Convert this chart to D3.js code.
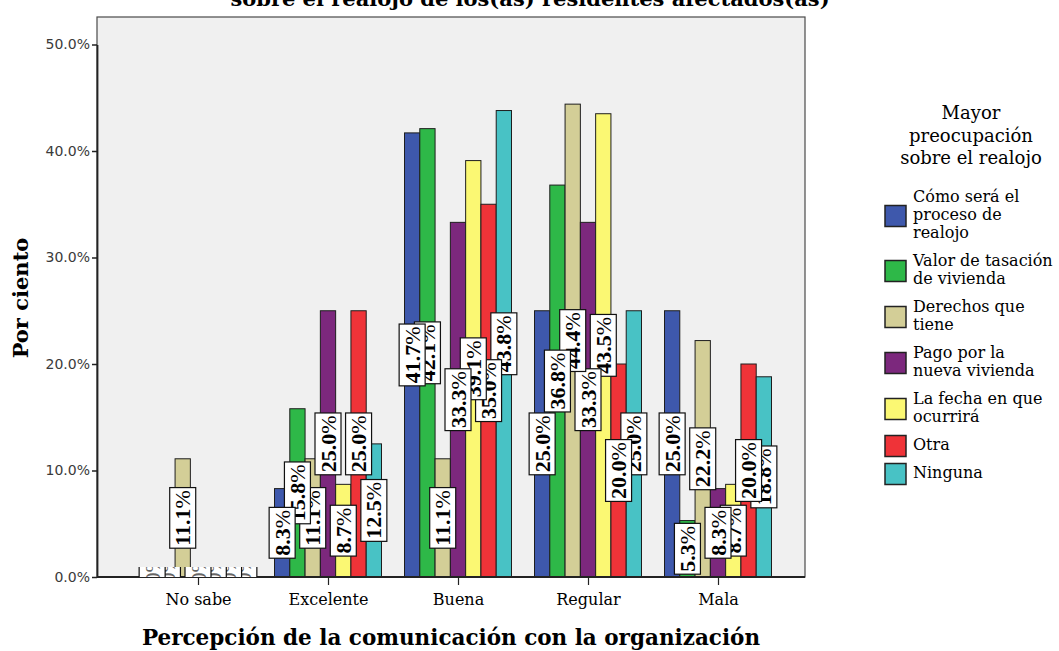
<!DOCTYPE html>
<html>
<head>
<meta charset="utf-8">
<script src="https://cdn.jsdelivr.net/npm/d3@7/dist/d3.min.js"></script>
<style>
  body { margin: 0; background: #ffffff; }
  svg { display: block; }
</style>
</head>
<body>
<svg id="chart" width="1059" height="651"></svg>
<script>
// Categories on the x axis
const categories = ["No sabe", "Excelente", "Buena", "Regular", "Mala"];

// Series (mayor preocupación) and their legend lines
const seriesKeys = ["como", "valor", "derechos", "pago", "fecha", "otra", "ninguna"];
const legendLines = [
  ["Cómo será el", "proceso de", "realojo"],
  ["Valor de tasación", "de vivienda"],
  ["Derechos que", "tiene"],
  ["Pago por la", "nueva vivienda"],
  ["La fecha en que", "ocurrirá"],
  ["Otra"],
  ["Ninguna"]
];
const seriesColors = ["#3e58ac", "#2eb848", "#d3ce97", "#7c287d", "#fbf873", "#ef3338", "#48c2c5"];

// Percentages per series, one value per category
const comoSera      = [0, 8.3, 41.7, 25.0, 25.0];
const valorTasacion = [0, 15.8, 42.1, 36.8, 5.3];
const derechos      = [11.1, 11.1, 11.1, 44.4, 22.2];
const pagoVivienda  = [0, 25.0, 33.3, 33.3, 8.3];
const fechaOcurrira = [0, 8.7, 39.1, 43.5, 8.7];
const otra          = [0, 25.0, 35.0, 20.0, 20.0];
const ninguna       = [0, 12.5, 43.8, 25.0, 18.8];
const seriesValues = [comoSera, valorTasacion, derechos, pagoVivienda, fechaOcurrira, otra, ninguna];

// Axis ticks
const yTicks = [0, 10, 20, 30, 40, 50];

// Texts
const chartTitle = "sobre el realojo de los(as) residentes afectados(as)";
const xTitle = "Percepción de la comunicación con la organización";
const yTitle = "Por ciento";
const legendTitle = ["Mayor", "preocupación", "sobre el realojo"];

const svg = d3.select("#chart");
const frame = { left: 97, right: 805, top: 17, bottom: 577 };

const y = d3.scaleLinear().domain([0, 50]).range([frame.bottom, 44.5]);
const x = d3.scalePoint().domain(categories).range([198, 718]);
const x1 = d3.scaleBand().domain(seriesKeys).range([-53.5, 53.5]);
const color = d3.scaleOrdinal().domain(seriesKeys).range(seriesColors);

const serif = "'DejaVu Serif', serif";

// Title (runs past the top edge of the page)
svg.append("text")
  .attr("x", 530).attr("y", 6)
  .attr("text-anchor", "middle")
  .style("font-family", serif).style("font-weight", "bold").style("font-size", "21px")
  .text(chartTitle);

// Plot background and frame
svg.append("rect")
  .attr("x", frame.left).attr("y", frame.top)
  .attr("width", frame.right - frame.left).attr("height", frame.bottom - frame.top)
  .attr("fill", "#f0f0f0").attr("stroke", "#4a4a4a").attr("stroke-width", 1.2);

// Bars
const rows = [];
categories.forEach((c, ci) => {
  seriesKeys.forEach((k, si) => rows.push({ cat: c, key: k, si, value: seriesValues[si][ci] }));
});

svg.append("g").selectAll("rect")
  .data(rows.filter(d => d.value > 0))
  .join("rect")
  .attr("x", d => x(d.cat) + x1(d.key))
  .attr("y", d => y(d.value))
  .attr("width", x1.bandwidth())
  .attr("height", d => y(0) - y(d.value))
  .attr("fill", d => color(d.key))
  .attr("stroke", "#1e1e1e").attr("stroke-width", 1);

// Axes
const yAxis = svg.append("g")
  .attr("transform", `translate(${frame.left},0)`)
  .call(d3.axisLeft(y).tickValues(yTicks).tickSize(5).tickSizeOuter(0).tickPadding(2)
    .tickFormat(d => d.toFixed(1) + "%"));
yAxis.select(".domain").attr("stroke", "#222").attr("stroke-width", 1.8);
yAxis.selectAll(".tick line").attr("stroke", "#222").attr("stroke-width", 1.5);
yAxis.selectAll(".tick text")
  .style("font-family", "'DejaVu Sans', sans-serif").style("font-size", "14px").attr("fill", "#3a3a3a");

const xAxis = svg.append("g")
  .attr("transform", `translate(0,${frame.bottom})`)
  .call(d3.axisBottom(x).tickSize(8).tickSizeOuter(0).tickPadding(9));
xAxis.select(".domain").remove();
xAxis.selectAll(".tick line").attr("stroke", "#222").attr("stroke-width", 1.2);
xAxis.selectAll(".tick text")
  .style("font-family", serif).style("font-size", "16px").attr("fill", "#000");

svg.append("line")
  .attr("x1", frame.left).attr("x2", frame.right)
  .attr("y1", frame.bottom).attr("y2", frame.bottom)
  .attr("stroke", "#222").attr("stroke-width", 1.8);

// Value labels: boxed, rotated, centred on the middle of each bar
svg.append("clipPath").attr("id", "zero-clip")
  .append("rect")
  .attr("x", frame.left).attr("y", y(0) - 10)
  .attr("width", frame.right - frame.left).attr("height", 10);

const labelLayer = svg.append("g");
const zeroLayer = svg.append("g").attr("clip-path", "url(#zero-clip)");

const labelOrder = [];
categories.forEach(c => {
  rows.filter(d => d.cat === c).slice().reverse().forEach(d => labelOrder.push(d));
});

labelOrder.forEach(d => {
  const isZero = d.value === 0;
  const parent = isZero ? zeroLayer : labelLayer;
  const g = parent.append("g")
    .attr("transform", `translate(${x(d.cat) + x1(d.key) + x1.bandwidth() / 2},${y(d.value / 2)}) rotate(-90)`);
  const rect = g.append("rect");
  const t = g.append("text")
    .attr("text-anchor", "middle")
    .attr("y", 7.5)
    .attr("fill", isZero ? "#666" : "#000")
    .style("font-family", "'Liberation Serif', serif")
    .style("font-size", "22px");
  t.append("tspan").style("font-weight", isZero ? "normal" : "bold").text(d.value.toFixed(1));
  t.append("tspan").style("font-weight", "normal").text("%");
  const len = t.node().getComputedTextLength();
  rect.attr("x", -len / 2 - 2.5).attr("y", -13)
    .attr("width", len + 5).attr("height", 26)
    .attr("fill", "#ffffff").attr("stroke", "#111").attr("stroke-width", 1.2);
});

// Axis titles
svg.append("text")
  .attr("x", 451).attr("y", 645)
  .attr("text-anchor", "middle")
  .style("font-family", serif).style("font-weight", "bold").style("font-size", "21.5px")
  .text(xTitle);

svg.append("text")
  .attr("transform", "translate(28,298) rotate(-90)")
  .attr("text-anchor", "middle")
  .style("font-family", serif).style("font-weight", "bold").style("font-size", "21px")
  .text(yTitle);

// Legend
const legend = svg.append("g");
legend.selectAll("text.ltitle")
  .data(legendTitle)
  .join("text")
  .attr("class", "ltitle")
  .attr("x", 971)
  .attr("y", (d, i) => 119 + i * 22.5)
  .attr("text-anchor", "middle")
  .style("font-family", serif).style("font-size", "18px")
  .text(d => d);

const lineH = 18, gap = 10;
let legendY = 189;
legendLines.forEach((lines, i) => {
  const h = lines.length * lineH;
  const item = legend.append("g");
  item.append("rect")
    .attr("x", 885).attr("y", legendY + h / 2 - 10.5)
    .attr("width", 21).attr("height", 21)
    .attr("fill", seriesColors[i]).attr("stroke", "#222").attr("stroke-width", 1.5);
  item.selectAll("text")
    .data(lines)
    .join("text")
    .attr("x", 913)
    .attr("y", (d, j) => legendY + 13 + j * lineH)
    .style("font-family", serif).style("font-size", "16px")
    .text(d => d);
  legendY += h + gap;
});
</script>
</body>
</html>
